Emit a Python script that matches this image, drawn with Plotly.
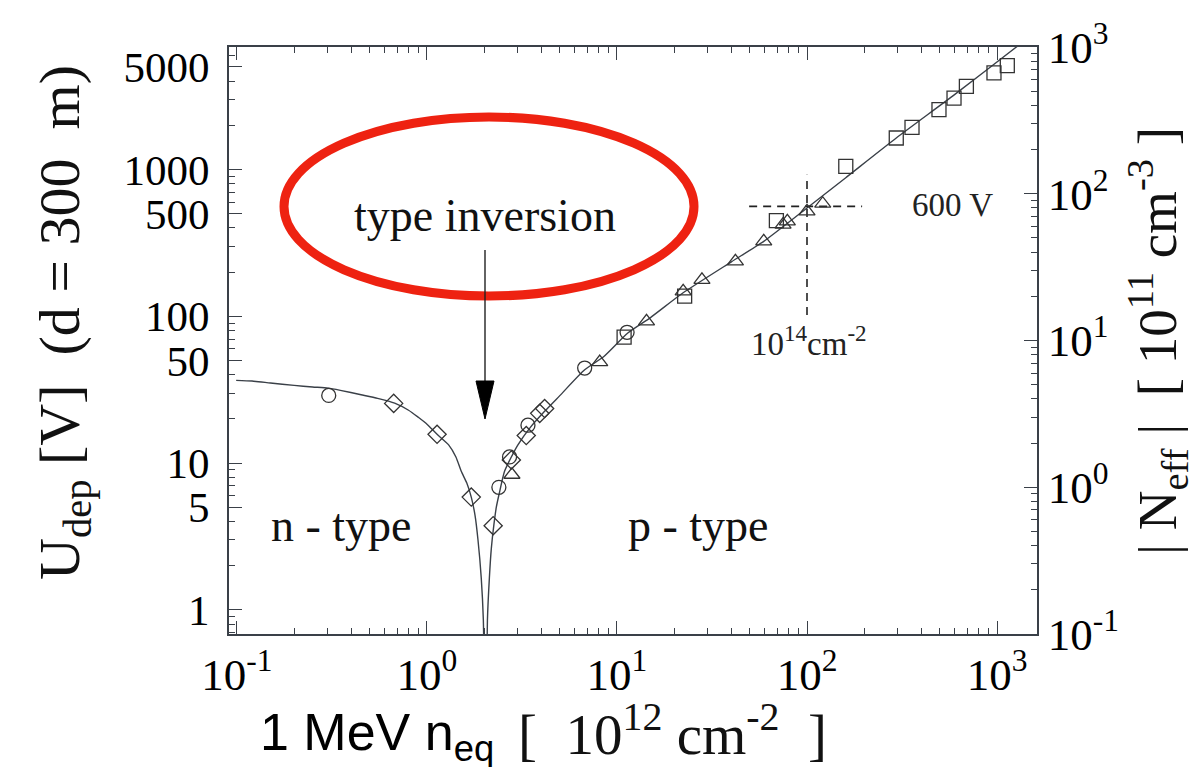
import plotly.graph_objects as go

# ---------------- data ----------------
# fluence in 10^12 cm^-2, depletion voltage in V
circle_x = [0.304, 2.39, 2.72, 3.40, 6.76, 11.3]
circle_u = [28.9, 6.83, 11.0, 18.1, 44.4, 77.8]

diamond_x = [0.668, 1.13, 1.71, 2.23, 2.78, 3.33, 3.92, 4.16]
diamond_u = [25.5, 15.7, 5.86, 3.74, 10.5, 15.4, 21.8, 23.5]

triangle_x = [2.80, 8.11, 14.3, 22.3, 28.0, 42.0, 59.2, 74.8, 78.8, 100, 121]
triangle_u = [8.32, 48.7, 92.4, 148, 177, 237, 324, 421, 443, 519, 585]

square_x = [10.9, 22.7, 69.0, 160, 295, 357, 495, 594, 690, 964, 1133]
square_u = [72, 137, 448, 1052, 1640, 1940, 2560, 3070, 3690, 4550, 5100]

fit_x = [0.099, 0.12, 0.15, 0.2, 0.25, 0.302, 0.35, 0.45, 0.55, 0.676, 0.8, 0.9, 1.0,
         1.13, 1.3, 1.42, 1.515, 1.62, 1.71, 1.79, 1.855, 1.93, 1.98, 2.03,
         2.08, 2.13, 2.18, 2.25, 2.317, 2.4, 2.56, 2.8, 3.01, 3.5, 4.16, 5.0,
         6.76, 8.5, 11.4, 15.0, 22.2, 40.0, 59.2, 100, 160, 295, 600, 1265, 1500]
fit_u = [36.6, 36.2, 35.1, 33.8, 33.0, 32.4, 31.3, 29.2, 27.6, 25.6, 22.9, 20.5, 18.4,
         15.7, 13.3, 11.0, 8.78, 7.3, 5.86, 4.4, 3.0, 1.65, 0.85, 0.1,
         0.85, 1.65, 2.6, 3.8, 5.0, 6.2, 8.78, 11.2, 13.3, 17.5, 22.5, 28.8,
         43.2, 53, 76.9, 98, 144, 235, 324, 547, 880, 1640, 3250, 6840, 8100]

# 600 V / 10^14 cm^-2 cross-hair
h_dash_x = [49.6, 195]
h_dash_u = [561, 561]
v_dash_x = [100, 100]
v_dash_u = [102, 920]

x_ticks = [0.1, 1, 10, 100, 1000]
x_ticktext = ["10<sup>-1</sup>", "10<sup>0</sup>", "10<sup>1</sup>", "10<sup>2</sup>", "10<sup>3</sup>"]
u_ticks = [1, 5, 10, 50, 100, 500, 1000, 5000]
u_ticktext = ["1", "5", "10", "50", "100", "500", "1000", "5000"]
n_ticks = [0.1, 1, 10, 100, 1000]
n_ticktext = ["10<sup>-1</sup>", "10<sup>0</sup>", "10<sup>1</sup>", "10<sup>2</sup>", "10<sup>3</sup>"]

# ---------------- figure ----------------
W, H = 1202, 767
L, R, T, B = 221, 173, 39, 141
SERIF = "Liberation Serif, Times New Roman, serif"
SANS = "Liberation Sans, Arial, sans-serif"
INK = "#3a4048"


def px(xpix):
    return (xpix - L) / (W - L - R)


def py(ypix):
    return (H - B - ypix) / (H - T - B)


def minor_vals(decades, lo, hi):
    out = []
    for d in decades:
        for m in range(2, 10):
            v = m * d
            if lo <= v <= hi:
                out.append(v)
    return out


fig = go.Figure()

fig.add_trace(go.Scatter(x=fit_x, y=fit_u, mode="lines",
                         line=dict(color=INK, width=1.4, shape="spline", smoothing=0.6),
                         showlegend=False))
fig.add_trace(go.Scatter(x=h_dash_x, y=h_dash_u, mode="lines",
                         line=dict(color="#222", width=1.6, dash="8px,6px"), showlegend=False))
fig.add_trace(go.Scatter(x=v_dash_x, y=v_dash_u, mode="lines",
                         line=dict(color="#222", width=1.6, dash="8px,6px"), showlegend=False))

mk = dict(size=14, color="#333", line=dict(color="#333", width=1.3))
fig.add_trace(go.Scatter(x=circle_x, y=circle_u, mode="markers",
                         marker=dict(symbol="circle-open", **mk), showlegend=False))
fig.add_trace(go.Scatter(x=diamond_x, y=diamond_u, mode="markers",
                         marker=dict(symbol="diamond-open", **mk), showlegend=False))
fig.add_trace(go.Scatter(x=triangle_x, y=triangle_u, mode="markers",
                         marker=dict(symbol="triangle-up-open", **mk), showlegend=False))
fig.add_trace(go.Scatter(x=square_x, y=square_u, mode="markers",
                         marker=dict(symbol="square-open", **mk), showlegend=False))
# carrier trace for the right axis
fig.add_trace(go.Scatter(x=[None], y=[None], yaxis="y2", showlegend=False))

fig.update_layout(
    width=W, height=H,
    margin=dict(l=L, r=R, t=T, b=B, autoexpand=False),
    paper_bgcolor="white", plot_bgcolor="white",
    showlegend=False,
    xaxis=dict(
        type="log", range=[-1.042, 3.2105],
        tickmode="array", tickvals=x_ticks, ticktext=x_ticktext,
        ticks="inside", ticklen=13, tickwidth=1.2, tickcolor=INK,
        showline=True, linecolor=INK, linewidth=1.6, mirror="ticks",
        showgrid=False, zeroline=False,
        tickfont=dict(family=SERIF, size=45, color="black"),
        minor=dict(tickmode="array",
                   tickvals=minor_vals([0.1, 1, 10, 100, 1000], 0.09, 1700),
                   ticks="inside", ticklen=6, tickwidth=1.2, tickcolor=INK, showgrid=False),
    ),
    yaxis=dict(
        type="log", range=[-0.165, 3.835],
        tickmode="array", tickvals=u_ticks, ticktext=u_ticktext,
        ticks="inside", ticklen=13, tickwidth=1.2, tickcolor=INK,
        ticklabelstandoff=9,
        showline=True, linecolor=INK, linewidth=1.6, mirror=False,
        showgrid=False, zeroline=False,
        tickfont=dict(family=SERIF, size=43, color="black"),
        minor=dict(tickmode="array",
                   tickvals=[v for v in minor_vals([0.1, 1, 10, 100, 1000], 0.69, 6800) if str(v)[0] != "5"],
                   ticks="inside", ticklen=6, tickwidth=1.2, tickcolor=INK, showgrid=False),
    ),
    yaxis2=dict(
        type="log", range=[-1, 3], overlaying="y", side="right", anchor="x",
        tickmode="array", tickvals=n_ticks, ticktext=n_ticktext,
        ticks="inside", ticklen=13, tickwidth=1.2, tickcolor=INK,
        showline=True, linecolor=INK, linewidth=1.6,
        showgrid=False, zeroline=False,
        tickfont=dict(family=SERIF, size=45, color="black"),
        minor=dict(tickmode="array",
                   tickvals=minor_vals([0.1, 1, 10, 100], 0.1, 1000),
                   ticks="inside", ticklen=6, tickwidth=1.2, tickcolor=INK, showgrid=False),
    ),
)

# red ellipse around the annotation
fig.add_shape(type="circle", xref="paper", yref="paper",
              x0=px(276), x1=px(686), y0=py(288), y1=py(109),
              line=dict(color="#ee2211", width=9), layer="above")

# arrow: shaft + filled head
fig.add_shape(type="line", xref="paper", yref="paper",
              x0=px(477), x1=px(477), y0=py(242), y1=py(380),
              line=dict(color="#222", width=1.4))
fig.add_shape(type="path", xref="paper", yref="paper",
              path=f"M {px(468)} {py(373)} L {px(486)} {py(373)} L {px(477)} {py(411)} Z",
              fillcolor="black", line=dict(color="black", width=1))

ann = []
ann.append(dict(text="type inversion", x=px(477), y=py(207), xref="paper", yref="paper",
                showarrow=False, font=dict(family=SERIF, size=46, color="#111"),
                xanchor="center", yanchor="middle"))
ann.append(dict(text="n - type", x=px(333), y=py(517), xref="paper", yref="paper",
                showarrow=False, font=dict(family=SERIF, size=46, color="#111"),
                xanchor="center", yanchor="middle"))
ann.append(dict(text="p - type", x=px(690), y=py(517), xref="paper", yref="paper",
                showarrow=False, font=dict(family=SERIF, size=46, color="#111"),
                xanchor="center", yanchor="middle"))
ann.append(dict(text="600 V", x=px(944), y=py(197), xref="paper", yref="paper",
                showarrow=False, font=dict(family=SERIF, size=33, color="#222"),
                xanchor="center", yanchor="middle"))
ann.append(dict(text="10<sup>14</sup>cm<sup>-2</sup>", x=px(801), y=py(333), xref="paper", yref="paper",
                showarrow=False, font=dict(family=SERIF, size=33, color="#222"),
                xanchor="center", yanchor="middle"))
# axis titles
ann.append(dict(text="U<sub>dep</sub> [V]  (d = 300  m)", x=px(55), y=py(315),
                xref="paper", yref="paper", textangle=-90, showarrow=False,
                font=dict(family=SERIF, size=58, color="#111"),
                xanchor="center", yanchor="middle"))
ann.append(dict(text="| N<sub>eff</sub> |  [ 10<sup>11</sup> cm<sup>-3</sup> ]", x=px(1150), y=py(333),
                xref="paper", yref="paper", textangle=-90, showarrow=False,
                font=dict(family=SERIF, size=55, color="#111"),
                xanchor="center", yanchor="middle"))
ann.append(dict(text="1 MeV n<sub>eq</sub>", x=px(250), y=py(728),
                xref="paper", yref="paper", showarrow=False,
                font=dict(family=SANS, size=52, color="black"),
                xanchor="left", yanchor="middle"))
ann.append(dict(text="[  10<sup>12</sup> cm<sup>-2</sup>  ]", x=px(508), y=py(722),
                xref="paper", yref="paper", showarrow=False,
                font=dict(family=SERIF, size=57, color="#111"),
                xanchor="left", yanchor="middle"))
fig.update_layout(annotations=ann)

fig.write_html("out.html")
